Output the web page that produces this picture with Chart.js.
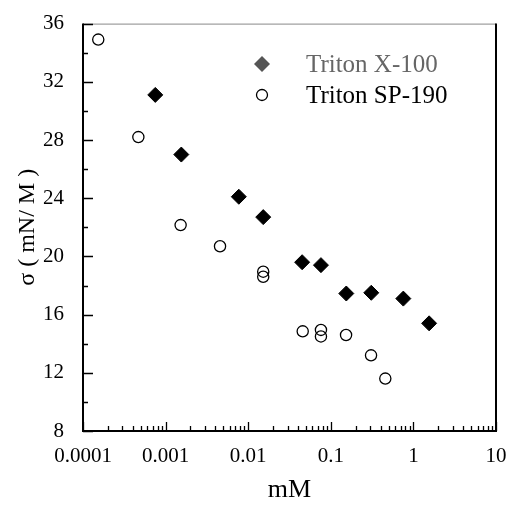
<!DOCTYPE html>
<html>
<head>
<meta charset="utf-8">
<script src="https://cdn.jsdelivr.net/npm/chart.js@4/dist/chart.umd.min.js"></script>
<style>
  html, body { margin: 0; padding: 0; background: #fff; }
  #wrap { width: 512px; height: 506px; }
</style>
</head>
<body>
<div id="wrap"><canvas id="chart"></canvas></div>
<script>
// Triton X-100 (filled diamonds)
const x100Conc = [0.00075, 0.00155, 0.0077, 0.0152, 0.045, 0.076, 0.154, 0.309, 0.755, 1.55];
const x100Sigma = [31.1, 27.0, 24.1, 22.7, 19.6, 19.4, 17.45, 17.5, 17.1, 15.4];

// Triton SP-190 (open circles)
const sp190Conc = [0.000153, 0.000468, 0.00152, 0.00456, 0.0152, 0.0152, 0.0457, 0.076, 0.076, 0.153, 0.307, 0.457];
const sp190Sigma = [34.9, 28.2, 22.15, 20.7, 18.95, 18.6, 14.85, 14.95, 14.5, 14.6, 13.2, 11.6];

// axis ticks
const xMajorTicks = [0.0001, 0.001, 0.01, 0.1, 1, 10];
const yMajorTicks = [8, 12, 16, 20, 24, 28, 32, 36];
const yMinorTicks = [10, 14, 18, 22, 26, 30, 34];

const seriesNames = ['Triton X-100', 'Triton SP-190'];

function toPoints(xs, ys) {
    return xs.map((x, i) => ({ x: x, y: ys[i] }));
}

// Inward tick marks, frame and legend drawn on top of the chart
const framePlugin = {
    id: 'frame',
    afterDraw(chart) {
        const ctx = chart.ctx;
        const a = chart.chartArea;
        const xs = chart.scales.x;
        const ys = chart.scales.y;
        ctx.save();

        // frame
        ctx.lineWidth = 1;
        ctx.strokeStyle = '#888';
        ctx.beginPath();
        ctx.moveTo(a.left, a.top + 0.5);
        ctx.lineTo(a.right, a.top + 0.5);
        ctx.stroke();
        ctx.lineWidth = 2;
        ctx.strokeStyle = '#000';
        ctx.beginPath();
        ctx.moveTo(a.left, a.top);
        ctx.lineTo(a.left, a.bottom);
        ctx.lineTo(a.right, a.bottom);
        ctx.lineTo(a.right, a.top);
        ctx.stroke();

        // x ticks (major + minor)
        ctx.lineWidth = 1.3;
        ctx.beginPath();
        xMajorTicks.forEach(v => {
            const px = Math.round(xs.getPixelForValue(v)) + 0.5;
            ctx.moveTo(px, a.bottom);
            ctx.lineTo(px, a.bottom - 9);
        });
        for (let d = 0; d < xMajorTicks.length - 1; d++) {
            for (let k = 2; k <= 9; k++) {
                const px = Math.round(xs.getPixelForValue(xMajorTicks[d] * k)) + 0.5;
                ctx.moveTo(px, a.bottom);
                ctx.lineTo(px, a.bottom - 5);
            }
        }
        // y ticks
        yMajorTicks.forEach(v => {
            const py = Math.round(ys.getPixelForValue(v)) + 0.5;
            ctx.moveTo(a.left, py);
            ctx.lineTo(a.left + 10, py);
        });
        yMinorTicks.forEach(v => {
            const py = Math.round(ys.getPixelForValue(v)) + 0.5;
            ctx.moveTo(a.left, py);
            ctx.lineTo(a.left + 5, py);
        });
        ctx.stroke();

        // legend
        ctx.font = '25px "Liberation Serif", "Times New Roman", serif';
        ctx.textBaseline = 'middle';
        ctx.textAlign = 'left';
        ctx.fillStyle = '#555';
        ctx.beginPath();
        ctx.moveTo(262, 56);
        ctx.lineTo(270, 64);
        ctx.lineTo(262, 72);
        ctx.lineTo(254, 64);
        ctx.closePath();
        ctx.fill();
        ctx.fillStyle = '#666';
        ctx.fillText(seriesNames[0], 306, 65);

        ctx.strokeStyle = '#000';
        ctx.lineWidth = 1.3;
        ctx.beginPath();
        ctx.arc(262, 95, 5.5, 0, Math.PI * 2);
        ctx.stroke();
        ctx.fillStyle = '#000';
        ctx.fillText(seriesNames[1], 306, 96);

        ctx.restore();
    }
};

const serif = '"Liberation Serif", "Times New Roman", serif';

new Chart(document.getElementById('chart'), {
    type: 'scatter',
    data: {
        datasets: [
            {
                label: seriesNames[0],
                data: toPoints(x100Conc, x100Sigma),
                pointStyle: 'rectRot',
                pointRadius: 7.5,
                backgroundColor: '#000',
                borderColor: '#000',
                borderWidth: 1
            },
            {
                label: seriesNames[1],
                data: toPoints(sp190Conc, sp190Sigma),
                pointStyle: 'circle',
                pointRadius: 5.6,
                backgroundColor: 'rgba(255,255,255,0)',
                borderColor: '#000',
                borderWidth: 1.3
            }
        ]
    },
    options: {
        responsive: true,
        maintainAspectRatio: false,
        animation: false,
        layout: { padding: { top: 17, right: 16, left: 0, bottom: 0 } },
        plugins: {
            legend: { display: false },
            tooltip: { enabled: false }
        },
        scales: {
            x: {
                type: 'logarithmic',
                min: 0.0001,
                max: 10,
                grid: { display: false },
                border: { display: false },
                afterBuildTicks: scale => {
                    scale.ticks = xMajorTicks.map(v => ({ value: v }));
                },
                afterFit: scale => { scale.height = 75; },
                ticks: {
                    autoSkip: false,
                    maxRotation: 0,
                    padding: 5,
                    color: '#000',
                    font: { family: serif, size: 21 },
                    callback: v => String(v)
                },
                title: {
                    display: true,
                    text: 'mM',
                    color: '#000',
                    padding: 0,
                    font: { family: serif, size: 26 }
                }
            },
            y: {
                min: 8,
                max: 36,
                grid: { display: false },
                border: { display: false },
                afterBuildTicks: scale => {
                    scale.ticks = yMajorTicks.map(v => ({ value: v }));
                },
                afterFit: scale => { scale.width = 83; },
                ticks: {
                    padding: 11,
                    color: '#000',
                    font: { family: serif, size: 21 }
                },
                title: {
                    display: true,
                    text: 'σ ( mN/ M )',
                    color: '#000',
                    padding: { top: 13, bottom: 0 },
                    font: { family: serif, size: 24 }
                }
            }
        }
    },
    plugins: [framePlugin]
});
</script>
</body>
</html>
